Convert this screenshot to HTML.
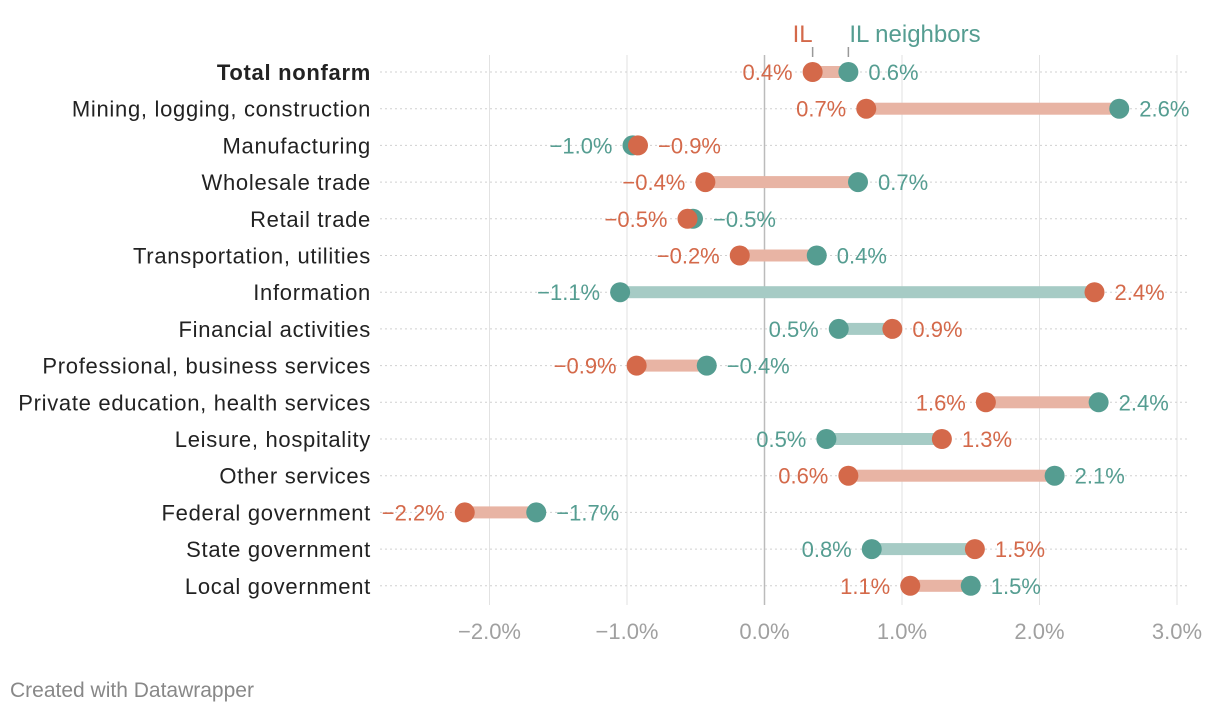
<!DOCTYPE html>
<html><head><meta charset="utf-8"><style>
html,body{margin:0;padding:0;background:#fff;}
svg{display:block;font-family:"Liberation Sans",sans-serif;}
</style></head><body>
<svg id="chart" width="1220" height="714" viewBox="0 0 1220 714"></svg>
<script>
const categories=["Total nonfarm","Mining, logging, construction","Manufacturing","Wholesale trade","Retail trade","Transportation, utilities","Information","Financial activities","Professional, business services","Private education, health services","Leisure, hospitality","Other services","Federal government","State government","Local government"];
const ilValues=[0.35,0.74,-0.92,-0.43,-0.56,-0.18,2.40,0.93,-0.93,1.61,1.29,0.61,-2.18,1.53,1.06];
const nbValues=[0.61,2.58,-0.96,0.68,-0.52,0.38,-1.05,0.54,-0.42,2.43,0.45,2.11,-1.66,0.78,1.50];
const ilLabels=["0.4%","0.7%","\u22120.9%","\u22120.4%","\u22120.5%","\u22120.2%","2.4%","0.9%","\u22120.9%","1.6%","1.3%","0.6%","\u22122.2%","1.5%","1.1%"];
const nbLabels=["0.6%","2.6%","\u22121.0%","0.7%","\u22120.5%","0.4%","\u22121.1%","0.5%","\u22120.4%","2.4%","0.5%","2.1%","\u22121.7%","0.8%","1.5%"];
const ticks=[-2,-1,0,1,2,3];
const tickLabels=["\u22122.0%","\u22121.0%","0.0%","1.0%","2.0%","3.0%"];

const OR="#d4694a",TE="#559d91",ORL="#e8b4a4",TEL="#a6cbc5";
const x=v=>764.5+v*137.5;
const y=i=>72+i*36.7;
const svg=document.getElementById('chart');
const NS="http://www.w3.org/2000/svg";
function mk(tag,attrs,parent){const e=document.createElementNS(NS,tag);for(const k in attrs)e.setAttribute(k,attrs[k]);(parent||svg).appendChild(e);return e;}
function txt(s,attrs){const e=mk('text',attrs);e.textContent=s;return e;}

ticks.forEach((t,k)=>{
  const l=mk('line',{x1:x(t),x2:x(t),y1:55,y2:605,stroke:t===0?"#bbb":"#e2e2e2","stroke-width":t===0?1.5:1});
  
  
  const tl=txt(tickLabels[k],{x:x(t),y:639,"text-anchor":"middle","font-size":22,fill:"#a0a0a0"});
  
  
});

categories.forEach((c,i)=>{
  const yy=y(i);
  const dl=mk('line',{x1:380,x2:1190,y1:yy,y2:yy,stroke:"#d0d0d0","stroke-width":1,"stroke-dasharray":"2,3"});
  
  
  const cl=txt(c,{x:371,y:yy+8,"text-anchor":"end","font-size":22,"letter-spacing":0.7,fill:"#222","font-weight":i===0?"bold":"normal"});
  
  
  const a=ilValues[i],b=nbValues[i];
  const ilLow=a<=b;
  const lo=Math.min(a,b),hi=Math.max(a,b);
  const bar=mk('rect',{x:x(lo),y:yy-6,width:Math.max(0,x(hi)-x(lo)),height:12,fill:ilLow?ORL:TEL});
  
  
  const d1=mk('circle',{cx:x(b),cy:yy,r:10,fill:TE});
  
  
  const d2=mk('circle',{cx:x(a),cy:yy,r:10,fill:OR});
  
  
  const lowLab=ilLow?ilLabels[i]:nbLabels[i],hiLab=ilLow?nbLabels[i]:ilLabels[i];
  const lowCol=ilLow?OR:TE,hiCol=ilLow?TE:OR;
  const t1=txt(lowLab,{x:x(lo)-20,y:yy+8,"text-anchor":"end","font-size":22,fill:lowCol});
  
  
  const t2=txt(hiLab,{x:x(hi)+20,y:yy+8,"text-anchor":"start","font-size":22,fill:hiCol});
  
  
});

const h1=txt("IL",{x:x(ilValues[0])-10,y:42,"text-anchor":"middle","font-size":24,fill:OR});


const h2=txt("IL neighbors",{x:x(nbValues[0])+1,y:42,"text-anchor":"start","font-size":24,fill:TE});


const k1=mk('line',{x1:x(ilValues[0]),x2:x(ilValues[0]),y1:47,y2:57,stroke:"#999","stroke-width":1.5});


const k2=mk('line',{x1:x(nbValues[0]),x2:x(nbValues[0]),y1:47,y2:57,stroke:"#999","stroke-width":1.5});



const cr=txt("Created with Datawrapper",{x:10,y:697,"font-size":21,fill:"#888"});


</script>
</body></html>
